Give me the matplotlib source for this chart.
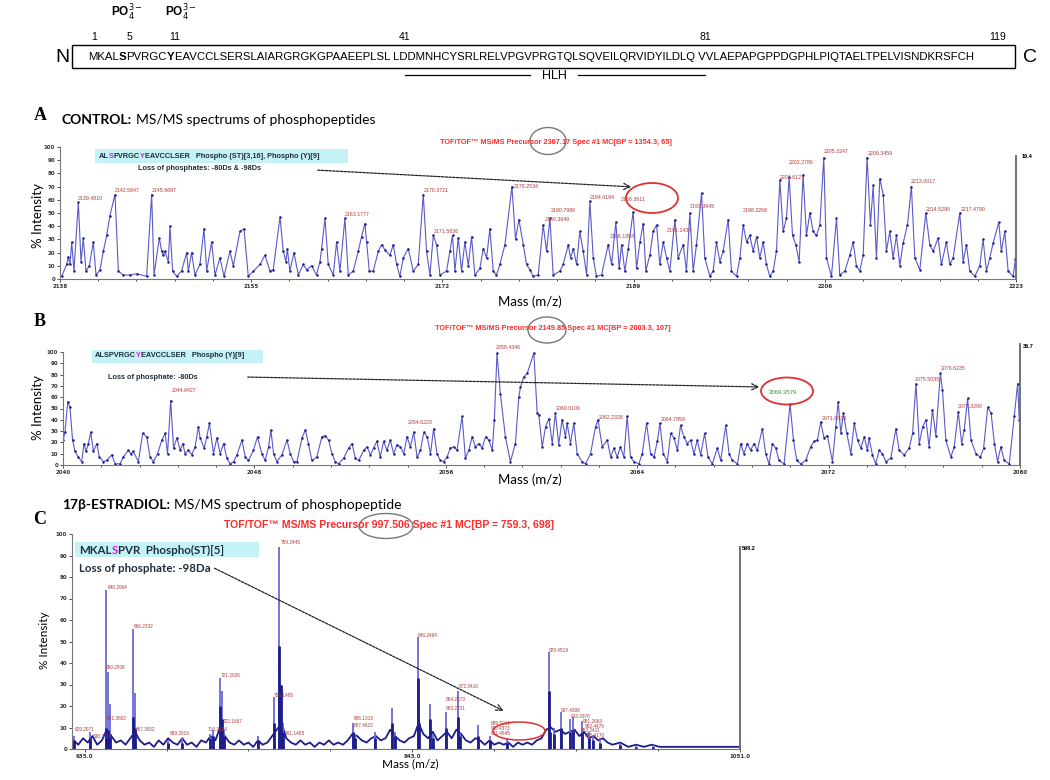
import matplotlib.pyplot as plt
from matplotlib.patches import Ellipse, Rectangle, FancyArrowPatch
from matplotlib.ticker import MultipleLocator, AutoMinorLocator

# ---------------- data ----------------
sequence_parts = ["MKAL", "S", "PVRGC", "Y",
                  "EAVCCLSERSLAIARGRGKGPAAEEPLSL LDDMNHCYSRLRELVPGVPRGTQLSQVEILQRVIDYILDLQ "
                  "VVLAEPAPGPPDGPHLPIQTAELTPELVISNDKRSFCH"]
residue_marks = ["1", "5", "11", "41", "81", "119"]

# panel A: control, precursor 2367.17 (mass, % intensity)
A_trace = [
    (2138.15, 2), (2138.59, 11), (2138.74, 17), (2138.89, 11), (2139.04, 28), (2139.24, 6),
    (2139.63, 58), (2139.87, 13), (2140.07, 31), (2140.31, 6), (2140.61, 10), (2140.96, 28),
    (2141.20, 3), (2141.56, 7), (2141.85, 21), (2142.15, 33), (2142.44, 48), (2142.89, 64),
    (2143.19, 6), (2143.63, 3), (2144.22, 3), (2144.81, 4), (2145.70, 2), (2146.15, 64),
    (2146.36, 3), (2146.83, 31), (2147.04, 21), (2147.19, 18), (2147.33, 21), (2147.63, 13),
    (2147.78, 40), (2148.01, 6), (2148.37, 2), (2148.81, 6), (2149.26, 20), (2149.41, 6),
    (2149.70, 20), (2150.00, 3), (2150.44, 11), (2150.80, 38), (2151.04, 6), (2151.48, 28),
    (2151.78, 3), (2152.22, 16), (2152.58, 2), (2153.11, 21), (2153.41, 10), (2154.00, 36),
    (2154.36, 38), (2154.74, 2), (2155.19, 6), (2155.78, 11), (2156.22, 18), (2156.67, 6),
    (2156.96, 7), (2157.56, 47), (2157.85, 21), (2158.09, 13), (2158.21, 23), (2158.44, 6),
    (2158.80, 20), (2159.19, 3), (2159.63, 11), (2159.93, 7), (2160.37, 10), (2160.81, 3),
    (2161.11, 13), (2161.26, 23), (2161.56, 46), (2161.85, 11), (2162.30, 3), (2162.59, 28),
    (2162.89, 6), (2163.33, 46), (2163.63, 3), (2164.07, 6), (2164.52, 21), (2164.81, 32),
    (2165.11, 42), (2165.26, 28), (2165.50, 6), (2165.85, 6), (2166.30, 21), (2166.59, 26),
    (2166.89, 22), (2167.33, 18), (2167.63, 26), (2167.93, 11), (2168.22, 2), (2168.52, 16),
    (2168.96, 23), (2169.41, 6), (2169.85, 11), (2170.30, 64), (2170.59, 21), (2170.89, 3),
    (2171.19, 33), (2171.48, 26), (2171.78, 3), (2172.37, 6), (2172.67, 21), (2172.90, 33),
    (2173.11, 6), (2173.41, 31), (2173.70, 6), (2174.00, 28), (2174.30, 10), (2174.59, 32),
    (2174.89, 3), (2175.33, 8), (2175.63, 23), (2175.93, 16), (2176.22, 38), (2176.52, 6),
    (2176.81, 3), (2177.11, 11), (2177.56, 26), (2178.18, 70), (2178.50, 30), (2178.80, 45),
    (2179.19, 26), (2179.48, 11), (2179.78, 7), (2180.07, 2), (2180.52, 3), (2180.96, 41),
    (2181.26, 21), (2181.56, 46), (2181.85, 3), (2182.45, 6), (2182.74, 11), (2183.19, 26),
    (2183.39, 16), (2183.63, 23), (2183.93, 11), (2184.22, 36), (2184.52, 21), (2184.82, 3),
    (2185.11, 59), (2185.41, 16), (2185.70, 2), (2186.15, 3), (2186.74, 26), (2187.04, 11),
    (2187.42, 43), (2187.72, 8), (2187.93, 26), (2188.22, 6), (2188.52, 23), (2188.96, 51),
    (2189.26, 8), (2189.56, 28), (2189.85, 42), (2190.09, 6), (2190.44, 18), (2190.74, 36),
    (2191.04, 41), (2191.33, 11), (2191.63, 28), (2191.93, 16), (2192.22, 6), (2192.67, 45),
    (2192.96, 16), (2193.41, 26), (2193.70, 6), (2194.00, 50), (2194.30, 6), (2194.59, 26),
    (2195.04, 65), (2195.33, 16), (2195.78, 2), (2196.07, 6), (2196.37, 28), (2196.67, 13),
    (2196.96, 21), (2197.41, 45), (2197.70, 6), (2198.15, 2), (2198.45, 16), (2198.74, 41),
    (2199.04, 28), (2199.33, 33), (2199.63, 21), (2199.93, 32), (2200.22, 16), (2200.52, 28),
    (2200.81, 11), (2201.11, 2), (2201.41, 6), (2201.70, 21), (2202.00, 75), (2202.30, 36),
    (2202.59, 46), (2202.83, 77), (2203.13, 33), (2203.42, 26), (2203.72, 13), (2204.07, 79),
    (2204.37, 33), (2204.67, 50), (2204.96, 36), (2205.26, 33), (2205.56, 41), (2205.91, 92),
    (2206.15, 16), (2206.59, 2), (2207.04, 46), (2207.33, 3), (2207.78, 6), (2208.22, 18),
    (2208.52, 28), (2208.81, 10), (2209.11, 6), (2209.41, 18), (2209.76, 92), (2210.06, 41),
    (2210.30, 71), (2210.59, 16), (2210.89, 76), (2211.19, 64), (2211.48, 21), (2211.78, 36),
    (2212.07, 16), (2212.37, 33), (2212.67, 10), (2212.96, 27), (2213.35, 41), (2213.70, 70),
    (2214.00, 16), (2214.45, 7), (2214.98, 50), (2215.33, 26), (2215.63, 21), (2216.07, 31),
    (2216.37, 11), (2216.81, 28), (2217.11, 11), (2217.41, 16), (2218.00, 50), (2218.30, 13),
    (2218.59, 26), (2218.89, 6), (2219.33, 2), (2219.78, 10), (2220.07, 30), (2220.37, 6),
    (2220.67, 16), (2220.96, 27), (2221.47, 43), (2221.70, 21), (2222.00, 36), (2222.30, 6),
    (2222.74, 2), (2222.95, 15),
]
A_labels = [
    ("2139.4810", 2139.6, 59), ("2142.5847", 2142.9, 65), ("2145.9697", 2146.15, 65),
    ("2163.1777", 2163.3, 47), ("2170.3721", 2170.3, 65), ("2171.5836", 2171.2, 34),
    ("2178.2534", 2178.3, 68), ("2180.7986", 2181.6, 50), ("2180.3649", 2181.1, 43),
    ("2184.4194", 2185.1, 60), ("2186.1958", 2186.9, 30), ("2191.1434", 2191.9, 35),
    ("2193.3945", 2194.0, 53), ("2198.2268", 2198.7, 50), ("2201.6127", 2202.0, 75),
    ("2202.2786", 2202.8, 86), ("2205.3247", 2205.9, 95), ("2209.3459", 2209.8, 93),
    ("2213.0017", 2213.6, 72), ("2214.5290", 2215.0, 51), ("2217.4790", 2218.1, 51),
]
A_circled = ("2188.3611", 2189.0, 60)
A_ticks = [2138, 2155, 2172, 2189, 2206, 2223]

# panel B: control, precursor 2149.85
B_trace = [
    (2040.01, 22), (2040.08, 29), (2040.20, 56), (2040.29, 51), (2040.40, 22), (2040.50, 12),
    (2040.64, 7), (2040.78, 3), (2040.88, 19), (2040.96, 12), (2041.06, 19), (2041.16, 29),
    (2041.27, 12), (2041.41, 19), (2041.52, 7), (2041.69, 3), (2041.83, 4), (2042.04, 9),
    (2042.18, 1), (2042.38, 1), (2042.52, 7), (2042.73, 13), (2042.83, 10), (2042.94, 12),
    (2043.15, 3), (2043.33, 28), (2043.50, 25), (2043.64, 7), (2043.78, 3), (2043.95, 10),
    (2044.13, 22), (2044.27, 28), (2044.37, 10), (2044.50, 57), (2044.62, 15), (2044.76, 24),
    (2044.90, 13), (2045.01, 19), (2045.10, 10), (2045.24, 13), (2045.38, 9), (2045.52, 16),
    (2045.66, 34), (2045.73, 24), (2045.90, 15), (2046.01, 25), (2046.12, 37), (2046.29, 10),
    (2046.43, 24), (2046.57, 10), (2046.71, 19), (2046.85, 6), (2046.99, 1), (2047.13, 3),
    (2047.27, 9), (2047.48, 22), (2047.62, 7), (2047.75, 4), (2047.96, 13), (2048.13, 25),
    (2048.31, 10), (2048.45, 4), (2048.59, 16), (2048.69, 31), (2048.80, 10), (2048.94, 3),
    (2049.15, 9), (2049.36, 22), (2049.50, 10), (2049.64, 3), (2049.78, 3), (2049.99, 24),
    (2050.13, 31), (2050.26, 19), (2050.40, 4), (2050.61, 7), (2050.82, 25), (2050.96, 26),
    (2051.10, 22), (2051.24, 10), (2051.38, 3), (2051.52, 1), (2051.73, 6), (2051.94, 15),
    (2052.08, 19), (2052.22, 6), (2052.36, 4), (2052.57, 13), (2052.71, 16), (2052.85, 9),
    (2052.98, 15), (2053.12, 21), (2053.26, 7), (2053.40, 21), (2053.54, 13), (2053.68, 22),
    (2053.82, 10), (2053.96, 18), (2054.10, 16), (2054.24, 10), (2054.38, 25), (2054.52, 16),
    (2054.66, 29), (2054.80, 7), (2054.94, 13), (2055.08, 29), (2055.22, 25), (2055.36, 10),
    (2055.49, 32), (2055.63, 10), (2055.77, 4), (2055.91, 3), (2056.05, 7), (2056.19, 15),
    (2056.33, 16), (2056.47, 13), (2056.68, 43), (2056.82, 6), (2056.96, 13), (2057.10, 25),
    (2057.24, 16), (2057.38, 19), (2057.52, 15), (2057.66, 25), (2057.80, 22), (2057.94, 13),
    (2058.03, 40), (2058.14, 99), (2058.28, 63), (2058.49, 25), (2058.70, 3), (2058.91, 19),
    (2059.05, 60), (2059.12, 69), (2059.26, 78), (2059.40, 81), (2059.68, 99), (2059.82, 46),
    (2059.89, 44), (2060.03, 16), (2060.17, 34), (2060.31, 41), (2060.45, 19), (2060.58, 46),
    (2060.72, 18), (2060.86, 40), (2061.00, 25), (2061.07, 37), (2061.21, 19), (2061.35, 37),
    (2061.49, 10), (2061.70, 3), (2061.84, 1), (2062.05, 10), (2062.26, 34), (2062.36, 40),
    (2062.54, 16), (2062.75, 22), (2062.89, 7), (2063.03, 15), (2063.16, 7), (2063.30, 16),
    (2063.44, 7), (2063.58, 43), (2063.72, 7), (2063.86, 3), (2064.07, 1), (2064.21, 10),
    (2064.39, 37), (2064.56, 10), (2064.70, 7), (2064.84, 21), (2064.95, 37), (2065.09, 10),
    (2065.26, 3), (2065.40, 28), (2065.54, 24), (2065.68, 13), (2065.81, 35), (2065.95, 25),
    (2066.09, 19), (2066.23, 22), (2066.37, 10), (2066.51, 22), (2066.65, 9), (2066.82, 28),
    (2066.96, 7), (2067.14, 1), (2067.35, 15), (2067.49, 4), (2067.70, 35), (2067.84, 10),
    (2067.98, 4), (2068.19, 1), (2068.33, 19), (2068.46, 10), (2068.60, 19), (2068.74, 13),
    (2068.88, 19), (2069.02, 13), (2069.23, 32), (2069.37, 10), (2069.51, 1), (2069.65, 19),
    (2069.79, 15), (2069.93, 4), (2070.14, 1), (2070.39, 54), (2070.53, 22), (2070.67, 4),
    (2070.84, 1), (2071.04, 4), (2071.25, 16), (2071.39, 21), (2071.53, 22), (2071.67, 38),
    (2071.81, 24), (2071.95, 26), (2072.16, 3), (2072.30, 34), (2072.40, 56), (2072.51, 28),
    (2072.62, 46), (2072.76, 28), (2072.93, 10), (2073.07, 37), (2073.21, 22), (2073.35, 15),
    (2073.49, 25), (2073.62, 13), (2073.69, 24), (2073.83, 9), (2073.97, 1), (2074.11, 13),
    (2074.25, 10), (2074.39, 3), (2074.60, 6), (2074.81, 32), (2074.95, 13), (2075.16, 9),
    (2075.37, 15), (2075.51, 28), (2075.65, 72), (2075.79, 19), (2075.93, 34), (2076.07, 40),
    (2076.20, 16), (2076.34, 49), (2076.48, 26), (2076.67, 81), (2076.76, 66), (2076.90, 22),
    (2077.11, 7), (2077.25, 16), (2077.42, 47), (2077.56, 19), (2077.67, 31), (2077.81, 59),
    (2077.95, 22), (2078.16, 10), (2078.34, 7), (2078.48, 15), (2078.65, 51), (2078.79, 46),
    (2078.93, 19), (2079.06, 3), (2079.20, 16), (2079.34, 4), (2079.55, 1), (2079.76, 43),
    (2079.90, 72), (2079.97, 40),
]
B_labels = [
    ("2044.6427", 2044.55, 66), ("2054.6223", 2054.4, 38), ("2058.4346", 2058.1, 104),
    ("2060.6106", 2060.6, 50), ("2062.2328", 2062.4, 42), ("2064.7959", 2065.0, 40),
    ("2071.6839", 2071.7, 41), ("2075.5035", 2075.6, 76), ("2076.6235", 2076.7, 85),
    ("2077.3290", 2077.4, 52),
]
B_circled = ("2069.3579", 2069.5, 64)
B_ticks = [2040, 2048, 2056, 2064, 2072, 2080]

# panel C: 17beta-estradiol, precursor 997.506
C_baseline = [
    (628, 4), (631, 2), (634, 5), (637, 3), (640, 6), (643, 2), (646, 4), (649, 9), (652, 6),
    (655, 3), (658, 4), (661, 2), (664, 5), (667, 8), (670, 4), (673, 2), (676, 3), (679, 1),
    (682, 4), (685, 2), (688, 5), (691, 3), (694, 2), (697, 5), (700, 2), (703, 3), (706, 1),
    (709, 4), (712, 3), (715, 6), (718, 4), (721, 10), (724, 6), (727, 3), (730, 2), (733, 4),
    (736, 2), (739, 3), (742, 1), (745, 4), (748, 2), (751, 3), (754, 6), (757, 9), (760, 12),
    (763, 5), (766, 3), (769, 2), (772, 4), (775, 2), (778, 3), (781, 1), (784, 3), (787, 2),
    (790, 4), (793, 2), (796, 3), (799, 2), (802, 4), (805, 7), (808, 6), (811, 4), (814, 3),
    (817, 5), (820, 6), (823, 4), (826, 5), (829, 9), (832, 6), (835, 4), (838, 3), (841, 5),
    (844, 6), (847, 12), (850, 7), (853, 5), (856, 8), (859, 4), (862, 6), (865, 8), (868, 5),
    (871, 9), (874, 7), (877, 4), (880, 3), (883, 5), (886, 4), (889, 2), (892, 4), (895, 2),
    (898, 3), (901, 2), (904, 3), (907, 1), (910, 3), (913, 2), (916, 3), (919, 2), (922, 4),
    (925, 5), (928, 9), (931, 10), (934, 8), (937, 9), (940, 7), (943, 8), (946, 9), (949, 6),
    (952, 8), (955, 5), (958, 6), (961, 4), (964, 5), (967, 3), (970, 2), (975, 3), (980, 1),
    (985, 2), (990, 1), (995, 2), (1000, 1), (1010, 1), (1020, 1), (1030, 1), (1040, 1),
    (1050, 1),
]
# (mass, full peak height, dark core height)
C_peaks = [
    (628.5, 6, 4), (638.7, 8, 5), (648.8, 74, 10), (650.0, 36, 9), (651.0, 21, 7),
    (666.0, 56, 15), (667.0, 26, 10), (688.2, 4, 3), (697.1, 5, 3), (714.9, 7, 5),
    (716.8, 9, 6), (721.2, 33, 20), (722.2, 27, 14), (723.4, 9, 6), (745.3, 6, 4),
    (754.9, 24, 12), (758.7, 94, 48), (759.7, 30, 30), (761.0, 12, 8), (805.6, 12, 8),
    (806.8, 7, 5), (819.6, 8, 5), (829.8, 19, 12), (832.0, 8, 6), (846.3, 52, 33),
    (847.2, 15, 12), (854.5, 21, 14), (856.0, 7, 5), (864.1, 17, 10), (872.3, 27, 15),
    (873.5, 8, 6), (884.4, 11, 6), (892.0, 6, 4), (903.0, 5, 3), (929.5, 45, 27),
    (930.5, 12, 8), (933.0, 10, 7), (937.1, 17, 10), (943.4, 14, 8), (945.3, 15, 9),
    (951.0, 13, 8), (955.0, 8, 5), (958.0, 6, 4), (962.0, 5, 3), (975.0, 3, 2),
    (985.0, 2, 1), (996.0, 2, 1),
]
C_labels = [
    ("648.2064", 649.4, 75), ("650.2906", 648.5, 38), ("651.3602", 649.0, 14),
    ("629.2071", 628.5, 9), ("638.3116", 640.0, 6), ("666.2332", 666.0, 57),
    ("667.3002", 667.5, 9), ("689.2019", 689.0, 7), ("716.2104", 713.0, 9),
    ("721.2026", 721.2, 34), ("722.1667", 722.4, 13), ("756.1495", 755.2, 25),
    ("759.2445", 759.3, 96), ("761.1488", 762.0, 7), ("806.1318", 805.6, 14),
    ("807.4623", 805.6, 11), ("846.2464", 846.5, 53), ("864.2573", 864.3, 23),
    ("863.2731", 864.3, 19), ("872.3410", 872.3, 29), ("899.5219", 893.0, 12),
    ("900.4373", 893.0, 9.5), ("901.4845", 893.0, 7), ("929.4519", 929.5, 46),
    ("937.4398", 937.1, 18), ("943.3970", 943.4, 15), ("951.2663", 951.0, 13),
    ("952.4478", 952.5, 10.5), ("953.2411", 950.0, 8.5), ("955.4170", 952.5, 6.5),
]
C_ticks = [635.0, 843.0, 1051.0]

# ---------------- drawing ----------------
W, H = 1050, 780
fig = plt.figure(figsize=(10.5, 7.8), dpi=100)
renderer = fig.canvas.get_renderer()

SANS = ["Liberation Sans", "DejaVu Sans"]
CAL = ["Lato", "DejaVu Sans"]
SERIF = ["Liberation Serif", "DejaVu Serif"]
LINE = "#5a5ac8"
DARK = "#1c1c8a"
LABEL_RED = "#b23a3a"


def put(x, y, s, **kw):
    return fig.text(x / W, 1 - y / H, s, **kw)


def chain(x, y, parts, **kw):
    # consecutive text pieces with their own styles
    for s, extra, gap in parts:
        opts = dict(kw)
        opts.update(extra)
        t = put(x, y, s, ha="left", va="center", **opts)
        x += t.get_window_extent(renderer).width + gap
    return x


def fig_ellipse(cx, cy, w, h, color, lw=1.2):
    fig.add_artist(Ellipse((cx / W, 1 - cy / H), w / W, h / H, fill=False,
                           edgecolor=color, lw=lw, transform=fig.transFigure))


def fig_arrow(x0, y0, x1, y1):
    fig.add_artist(FancyArrowPatch((x0 / W, 1 - y0 / H), (x1 / W, 1 - y1 / H),
                                   transform=fig.transFigure, arrowstyle="->",
                                   mutation_scale=11, lw=0.9, linestyle=(0, (2, 1)),
                                   color="#222222"))


def fig_box(x0, y0, x1, y1, face, edge="none", lw=0.0):
    fig.add_artist(Rectangle((x0 / W, 1 - y1 / H), (x1 - x0) / W, (y1 - y0) / H,
                             facecolor=face, edgecolor=edge, lw=lw,
                             transform=fig.transFigure))


def spec_axes(x0, x1, ytop, ybot, xlim, ticks, fmt, right_top):
    ax = fig.add_axes([x0 / W, 1 - ybot / H, (x1 - x0) / W, (ybot - ytop) / H])
    ax.set_xlim(*xlim)
    ax.set_ylim(0, 100)
    ax.patch.set_alpha(0)
    ax.set_xticks(ticks)
    ax.set_xticklabels([fmt.format(t) for t in ticks])
    ax.xaxis.set_minor_locator(AutoMinorLocator(5))
    ax.yaxis.set_major_locator(MultipleLocator(10))
    ax.tick_params(labelsize=4, length=2.5, width=0.6, pad=1, colors="#333333")
    ax.tick_params(which="minor", length=1.5, width=0.5)
    for lab in ax.get_xticklabels() + ax.get_yticklabels():
        lab.set_fontweight("bold")
    ax.spines["top"].set_visible(False)
    for side in ("left", "bottom"):
        ax.spines[side].set_color("#777777")
        ax.spines[side].set_linewidth(0.8)
    ax.spines["right"].set_color("#666666")
    ax.spines["right"].set_linewidth(1.3)
    ax.spines["right"].set_bounds(0, right_top)
    return ax


# ---- top: protein sequence ----
fig_box(72, 45, 1015, 68, "white", "black", 1.0)
put(62, 57, "N", fontsize=14, family=SANS, ha="center", va="center")
put(1030, 57, "C", fontsize=14, family=SANS, ha="center", va="center")
chain(88, 57, [(sequence_parts[0], {}, 0), (sequence_parts[1], {"fontweight": "bold"}, 0),
               (sequence_parts[2], {}, 0), (sequence_parts[3], {"fontweight": "bold"}, 0),
               (sequence_parts[4], {}, 0)], fontsize=8.2, family=SANS)
for lab, xx in zip(residue_marks, [94, 129, 175, 405, 705, 998]):
    put(xx, 37, lab, fontsize=7.5, family=SANS, ha="center", va="center")
for xx in (127, 181):
    put(xx, 13, r"PO$_4^{3-}$", fontsize=8.5, family=SANS, fontweight="bold",
        ha="center", va="center")
fig.add_artist(plt.Line2D([405 / W, 530 / W], [1 - 75 / H] * 2, color="black", lw=0.9))
fig.add_artist(plt.Line2D([578 / W, 705 / W], [1 - 75 / H] * 2, color="black", lw=0.9))
put(554, 76, "HLH", fontsize=9, family=SANS, ha="center", va="center")

# ---- panel A ----
put(40, 116, "A", fontsize=13, family=SERIF, fontweight="bold", ha="center", va="center")
chain(62, 120, [("CONTROL:", {"fontweight": "bold"}, 4),
                ("MS/MS spectrums of phosphopeptides", {}, 0)], fontsize=10, family=CAL)
put(556, 142, "TOF/TOF\u2122 MS/MS Precursor 2367.17 Spec #1 MC[BP = 1354.3, 65]",
    fontsize=5.3, family=SANS, fontweight="bold", color="#ff2a2a", ha="center", va="center")
fig_ellipse(548, 141, 36, 27, "#777777", 1.0)

axA = spec_axes(60, 1016, 147, 279, (2138, 2223), A_ticks, "{:d}", 93)
am, ai = zip(*A_trace)
axA.plot(am, ai, color=LINE, lw=0.8)
axA.plot(am, ai, ls="none", marker=".", ms=1.6, color=DARK)
for txt, m, y in A_labels:
    axA.text(m, y, txt, fontsize=3.8, color=LABEL_RED, ha="left", va="bottom", family=SANS)
axA.text(A_circled[1], A_circled[2], A_circled[0], fontsize=3.8, color=LABEL_RED,
         ha="center", va="center", family=SANS)
put(1022, 157, "19.4", fontsize=4, fontweight="bold", family=SANS, ha="left", va="center")
put(38, 215, "% Intensity", fontsize=9.5, family=CAL, rotation=90, ha="center", va="center")
put(530, 302, "Mass (m/z)", fontsize=9.5, family=CAL, ha="center", va="center")

fig_box(95, 149, 348, 163, "#c4f2f6")
chain(99, 156, [("AL", {}, 0), ("S", {"color": "#e020e0"}, 0), ("PVRGC", {}, 0),
                ("Y", {"color": "#e020e0"}, 0),
                ("EAVCCLSER   Phospho (ST)[3,16], Phospho (Y)[9]", {}, 0)],
      fontsize=5.3, family=SANS, fontweight="bold", color="#1d2f3a")
put(138, 169, "Loss of phosphates: -80Ds & -98Ds", fontsize=5.3, family=SANS,
    fontweight="bold", color="#1d2f3a", ha="left", va="center")
fig_arrow(315, 170, 634, 187)
fig_ellipse(652, 198, 52, 30, "#e03030", 1.3)

# ---- panel B ----
put(40, 322, "B", fontsize=13, family=SERIF, fontweight="bold", ha="center", va="center")
put(553, 328, "TOF/TOF\u2122 MS/MS Precursor 2149.85 Spec #1 MC[BP = 2003.3, 107]",
    fontsize=5.3, family=SANS, fontweight="bold", color="#ff2a2a", ha="center", va="center")
fig_ellipse(547, 330, 38, 26, "#777777", 1.0)

axB = spec_axes(63, 1020, 352, 465, (2040, 2080), B_ticks, "{:d}", 107)
bm, bi = zip(*B_trace)
axB.plot(bm, bi, color=LINE, lw=0.8)
axB.plot(bm, bi, ls="none", marker=".", ms=1.6, color=DARK)
for txt, m, y in B_labels:
    axB.text(m, y, txt, fontsize=3.8, color=LABEL_RED, ha="left", va="center",
             family=SANS, clip_on=False)
axB.text(B_circled[1], B_circled[2], B_circled[0], fontsize=4.3, color="#2f9a2f",
         ha="left", va="center", family=SANS)
put(1023, 346, "36.7", fontsize=4, fontweight="bold", family=SANS, ha="left", va="center")
put(38, 408, "% Intensity", fontsize=9.5, family=CAL, rotation=90, ha="center", va="center")
put(530, 480, "Mass (m/z)", fontsize=9.5, family=CAL, ha="center", va="center")

fig_box(92, 350, 263, 363, "#c4f2f6")
chain(95, 356, [("ALSPVRGC", {}, 0), ("Y", {"color": "#e020e0"}, 0),
                ("EAVCCLSER   Phospho (Y)[9]", {}, 0)],
      fontsize=5.3, family=SANS, fontweight="bold", color="#1d2f3a")
put(108, 377, "Loss of phosphate: -80Ds", fontsize=5.3, family=SANS,
    fontweight="bold", color="#1d2f3a", ha="left", va="center")
fig_arrow(245, 377, 762, 387)
fig_ellipse(787, 391, 52, 27, "#e03030", 1.3)

# ---- panel C ----
put(40, 520, "C", fontsize=13, family=SERIF, fontweight="bold", ha="center", va="center")
chain(62, 505, [("17\u03b2-ESTRADIOL:", {"fontweight": "bold"}, 4),
                ("MS/MS spectrum of phosphopeptide", {}, 0)], fontsize=10, family=CAL)
put(389, 525, "TOF/TOF\u2122 MS/MS Precursor 997.506 Spec #1 MC[BP = 759.3, 698]",
    fontsize=7.6, family=SANS, fontweight="bold", color="#ff2a2a", ha="center", va="center")
fig_ellipse(386, 526, 54, 25, "#777777", 1.0)

axC = spec_axes(72, 740, 534, 749, (627, 1051), C_ticks, "{:.1f}", 94)
axC.xaxis.set_minor_locator(AutoMinorLocator(4))
cm, ci = zip(*C_baseline)
axC.plot(cm, ci, color=DARK, lw=1.3)
pm, ph, pd = zip(*C_peaks)
axC.vlines(pm, 0, ph, color="#6a6ad6", lw=1.3)
axC.vlines(pm, 0, pd, color=DARK, lw=2.0)
for txt, m, y in C_labels:
    axC.text(m, y, txt, fontsize=3.4, color=LABEL_RED, ha="left", va="center", family=SANS)
put(742, 549, "598.2", fontsize=4, fontweight="bold", family=SANS, ha="left", va="center")
put(44, 640, "% Intensity", fontsize=8.5, family=CAL, rotation=90, ha="center", va="center")
put(410, 764, "Mass (m/z)", fontsize=8.5, family=CAL, ha="center", va="center")

fig_box(75, 542, 259, 557, "#c4f2f6")
chain(79, 550, [("MKAL", {}, 0), ("S", {"color": "#e020e0"}, 0),
                ("PVR  Phospho(ST)[5]", {}, 0)],
      fontsize=8.3, family=CAL, fontweight="bold", color="#1d2f3a")
put(79, 568, "Loss of phosphate: -98Da", fontsize=8.3, family=CAL, fontweight="bold",
    color="#1d2f3a", ha="left", va="center")
fig_arrow(212, 567, 506, 712)
fig_ellipse(519, 731, 52, 18, "#e03030", 1.1)

fig.savefig("out.png", dpi=100)
